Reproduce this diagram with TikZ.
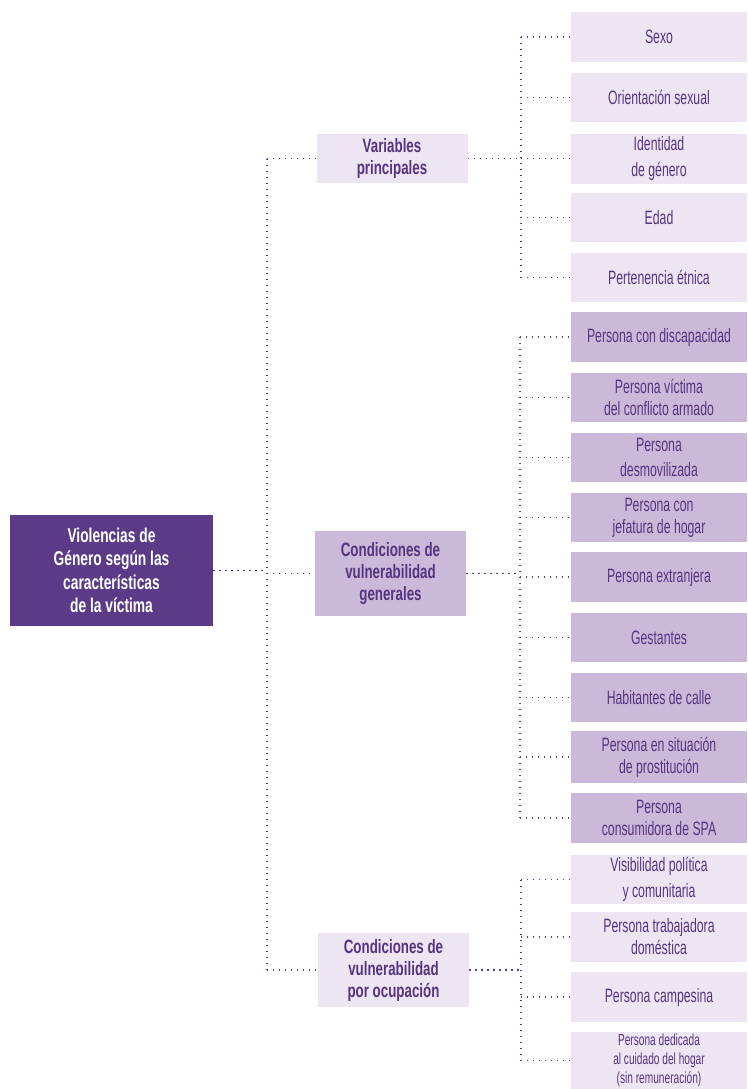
\documentclass[tikz,border=0pt]{standalone}
\usepackage{fontspec}
\setmainfont{Liberation Sans}[FakeStretch=0.635, BoldFeatures={FakeStretch=0.69}]
\definecolor{dpurp}{HTML}{5B3A87}
\definecolor{mpurp}{HTML}{CBB9D9}
\definecolor{lpurp}{HTML}{EEE5F2}
\definecolor{tpurp}{HTML}{55357F}
\tikzset{
  dotline/.style={draw=dpurp, line width=1pt, dash pattern=on 1pt off 3.5pt},
  rootbox/.style={fill=dpurp, text=white, font=\fontsize{15}{17.5}\selectfont\bfseries, align=center, inner sep=0pt, minimum width=203*0.75pt, minimum height=111*0.75pt},
  midl/.style={fill=lpurp, text=tpurp, font=\fontsize{14.5}{16.5}\selectfont\bfseries, align=center, inner sep=0pt, minimum width=151*0.75pt},
  midm/.style={midl, fill=mpurp},
  rl/.style={fill=lpurp, text=tpurp, font=\fontsize{14.5}{16.5}\selectfont, align=center, inner sep=0pt, minimum width=176*0.75pt},
  rm/.style={rl, fill=mpurp},
}
\begin{document}
\begin{tikzpicture}[x=0.75pt,y=-0.75pt]
\useasboundingbox (0,0) rectangle (747,1089);
% root
\node[rootbox] (root) at (111.5,570.5) {Violencias de\\Género según las\\características\\de la víctima};
% middle
\node[midl, minimum height=49*0.75pt] (v) at (392,158.5) {Variables\\principales};
\node[midm, minimum height=85*0.75pt] (g) at (390.5,573.5) {Condiciones de\\vulnerabilidad\\generales};
\node[midl, minimum height=74*0.75pt] (o) at (393.5,970) {Condiciones de\\vulnerabilidad\\por ocupación};
% right: variables
\node[rl, minimum height=50*0.75pt] (a1) at (659,37) {Sexo};
\node[rl, minimum height=49*0.75pt] (a2) at (659,97.5) {Orientación sexual};
\node[rl, minimum height=50*0.75pt, font=\fontsize{14.5}{19}\selectfont] (a3) at (659,158.5) {Identidad\\de género};
\node[rl, minimum height=49*0.75pt] (a4) at (659,217.5) {Edad};
\node[rl, minimum height=49*0.75pt] (a5) at (659,277.5) {Pertenencia étnica};
% right: generales
\node[rm, minimum height=50*0.75pt] (b1) at (659,337) {Persona con discapacidad};
\node[rm, minimum height=49*0.75pt] (b2) at (659,397.5) {Persona víctima\\del conflicto armado};
\node[rm, minimum height=49*0.75pt, font=\fontsize{14.5}{19}\selectfont] (b3) at (659,457.5) {Persona\\desmovilizada};
\node[rm, minimum height=49*0.75pt] (b4) at (659,517.5) {Persona con\\jefatura de hogar};
\node[rm, minimum height=50*0.75pt] (b5) at (659,577) {Persona extranjera};
\node[rm, minimum height=49*0.75pt] (b6) at (659,637.5) {Gestantes};
\node[rm, minimum height=49*0.75pt] (b7) at (659,697.5) {Habitantes de calle};
\node[rm, minimum height=52*0.75pt] (b8) at (659,757) {Persona en situación\\de prostitución};
\node[rm, minimum height=50*0.75pt] (b9) at (659,818) {Persona\\consumidora de SPA};
% right: ocupacion
\node[rl, minimum height=49*0.75pt, font=\fontsize{14.5}{19}\selectfont] (c1) at (659,879.5) {Visibilidad política\\y comunitaria};
\node[rl, minimum height=50*0.75pt] (c2) at (659,937) {Persona trabajadora\\doméstica};
\node[rl, minimum height=50*0.75pt] (c3) at (659,997) {Persona campesina};
\node[rl, minimum height=57*0.75pt, font=\fontsize{12}{14.5}\selectfont] (c4) at (659,1060.5) {Persona dedicada\\al cuidado del hogar\\(sin remuneración)};
% junctions
\coordinate (j0) at (267,570.5);
\coordinate (j1) at (521,158.5);
\coordinate (j2) at (520,573.5);
\coordinate (j3) at (521,970);
% root connectors
\draw[dotline] (root.east) -- (j0);
\draw[dotline] (j0 |- v.west) -- (j0 |- o.west);
\foreach \n in {v,g,o} {\draw[dotline] (j0 |- \n.west) -- (\n.west);}
% variables
\draw[dotline] (v.east) -- (j1);
\draw[dotline] (j1 |- a1.west) -- (j1 |- a5.west);
\foreach \n in {a1,a2,a3,a4,a5} {\draw[dotline] (j1 |- \n.west) -- (\n.west);}
% generales
\draw[dotline] (g.east) -- (j2);
\draw[dotline] (j2 |- b1.west) -- (j2 |- b9.west);
\foreach \n in {b1,b2,b3,b4,b5,b6,b7,b8,b9} {\draw[dotline] (j2 |- \n.west) -- (\n.west);}
% ocupacion
\draw[dotline] (o.east) -- (j3);
\draw[dotline] (j3 |- c1.west) -- (j3 |- c4.west);
\foreach \n in {c1,c2,c3,c4} {\draw[dotline] (j3 |- \n.west) -- (\n.west);}
\end{tikzpicture}
\end{document}
